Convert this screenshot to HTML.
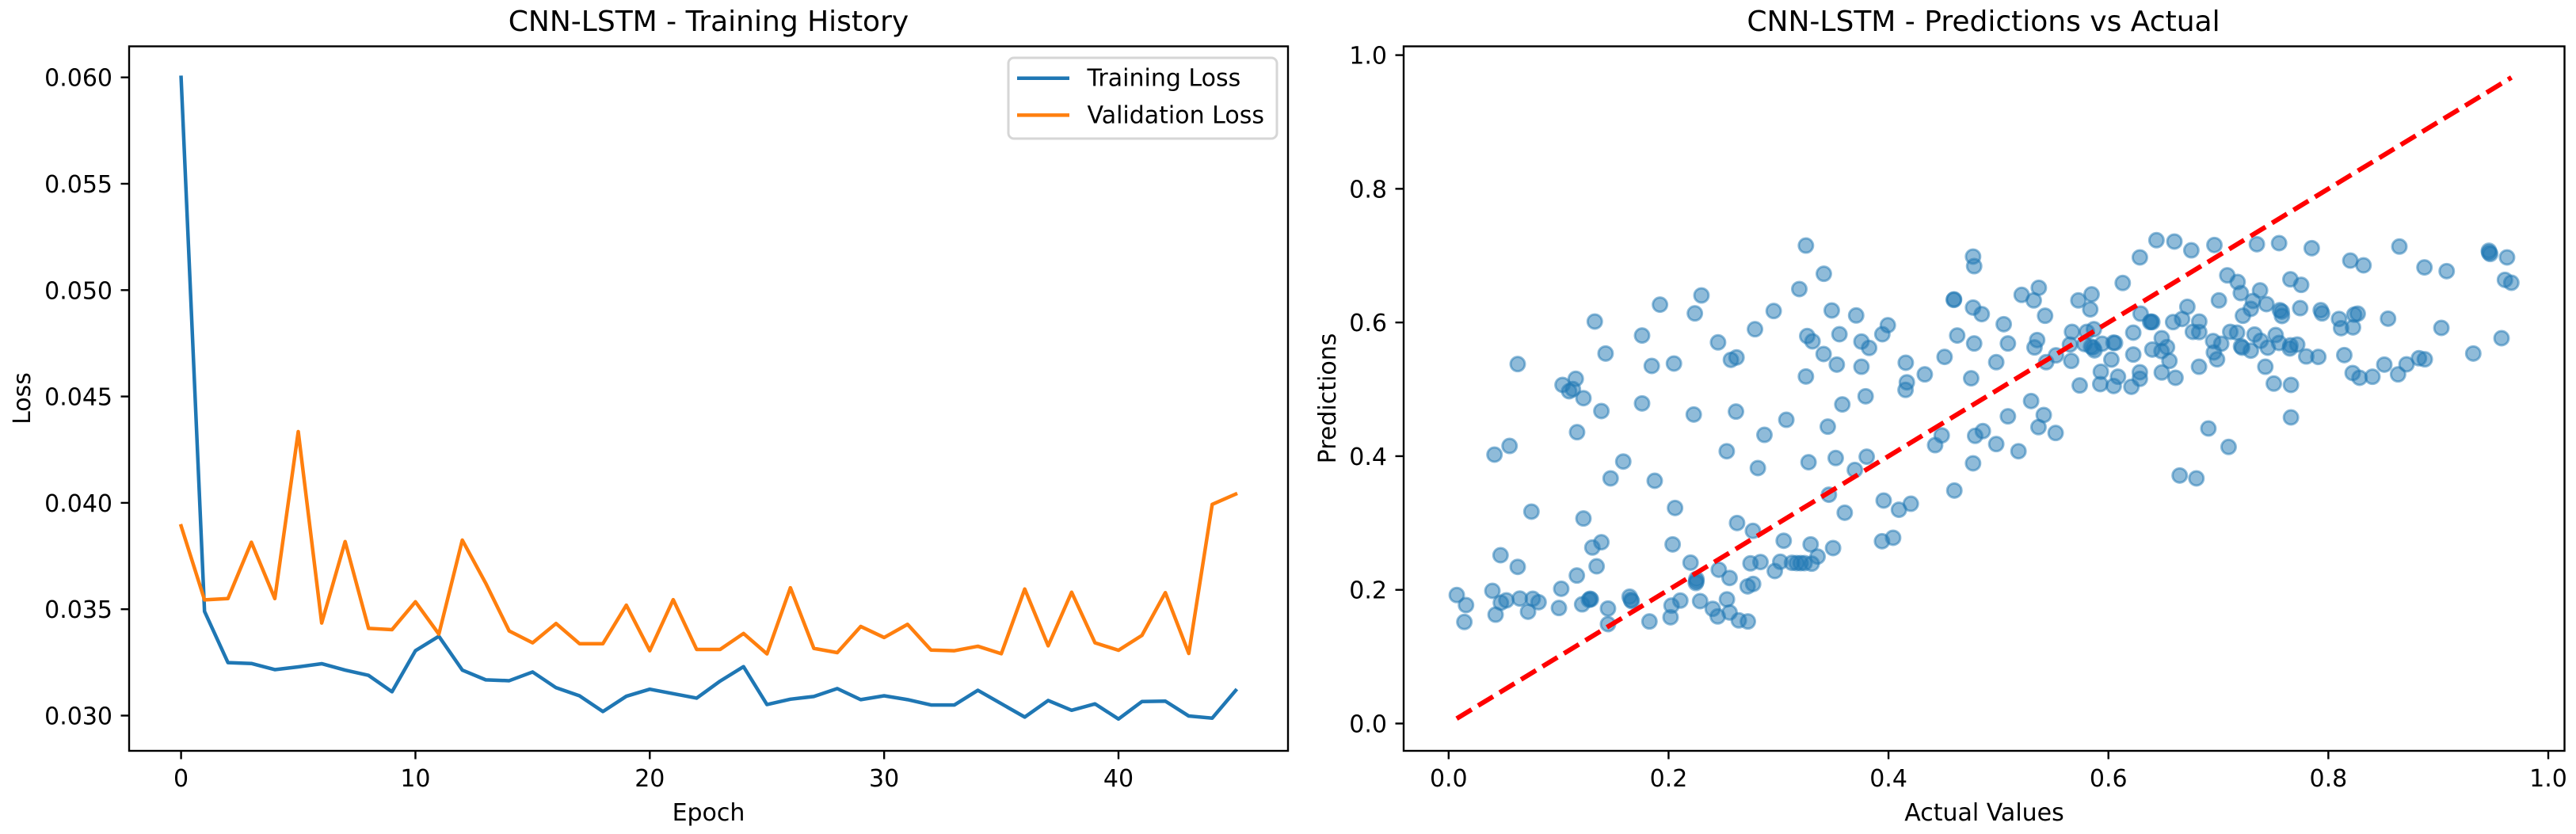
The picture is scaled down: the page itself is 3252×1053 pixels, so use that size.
<!DOCTYPE html>
<html lang="en">
<head>
<meta charset="utf-8">
<title>CNN-LSTM Training History and Predictions vs Actual</title>
<style>
  html, body { margin: 0; padding: 0; background: #ffffff; }
  svg { display: block; }
  text { font-family: "DejaVu Sans", "Liberation Sans", sans-serif; fill: #000000; }
</style>
</head>
<body>
<svg id="figure" xmlns="http://www.w3.org/2000/svg" width="3252" height="1053" viewBox="0 0 3252 1053">
  <rect x="0" y="0" width="3252" height="1053" fill="#ffffff"/>

  <g id="history-panel">
    <g id="history-marks"></g>
    <rect x="163" y="58.5" width="1463" height="889.5" fill="none" stroke="#000" stroke-width="2.4"/>
    <g id="history-ticks"></g>
    <text x="894.5" y="39" font-size="36" text-anchor="middle">CNN-LSTM - Training History</text>
    <text x="894.5" y="1036" font-size="30" text-anchor="middle">Epoch</text>
    <text transform="translate(38 503) rotate(-90)" font-size="30" text-anchor="middle">Loss</text>
    <g>
      <rect x="1273" y="73" width="339" height="102" rx="7" ry="7" fill="#ffffff" fill-opacity="0.8" stroke="#d6d6d6" stroke-width="3"/>
      <line x1="1284" y1="98.7" x2="1350" y2="98.7" stroke="#1f77b4" stroke-width="4.5"/>
      <text x="1372.5" y="108.5" font-size="30">Training Loss</text>
      <line x1="1284" y1="145.4" x2="1350" y2="145.4" stroke="#ff7f0e" stroke-width="4.5"/>
      <text x="1372.5" y="155.5" font-size="30">Validation Loss</text>
    </g>
  </g>

  <g id="scatter-panel">
    <g id="scatter-marks"></g>
    <rect x="1772" y="58.5" width="1465.5" height="889.5" fill="none" stroke="#000" stroke-width="2.4"/>
    <g id="scatter-ticks"></g>
    <text x="2504" y="39" font-size="36" text-anchor="middle">CNN-LSTM - Predictions vs Actual</text>
    <text x="2505" y="1036" font-size="30" text-anchor="middle">Actual Values</text>
    <text transform="translate(1686 503) rotate(-90)" font-size="30" text-anchor="middle">Predictions</text>
  </g>
</svg>

<script>
const epochs = [0,1,2,3,4,5,6,7,8,9,10,11,12,13,14,15,16,17,18,19,20,21,22,23,24,25,26,27,28,29,30,31,32,33,34,35,36,37,38,39,40,41,42,43,44,45];
const trainingLoss = [0.0600,0.0349,0.03249,0.03245,0.03216,0.03229,0.03244,0.03214,0.03189,0.03112,0.03305,0.03373,0.03214,0.03168,0.03164,0.03205,0.03131,0.03093,0.03019,0.03091,0.03124,0.03103,0.03082,0.03162,0.0323,0.03052,0.03077,0.0309,0.03127,0.03075,0.03093,0.03075,0.0305,0.0305,0.03119,0.03056,0.02993,0.03071,0.03025,0.03055,0.02984,0.03066,0.03068,0.02998,0.02988,0.03118];
const validationLoss = [0.03892,0.03544,0.0355,0.03815,0.0355,0.04335,0.03435,0.03818,0.0341,0.03404,0.03535,0.03383,0.03825,0.03622,0.03398,0.03342,0.03433,0.03338,0.03338,0.03519,0.03305,0.03545,0.03311,0.03311,0.03386,0.0329,0.03601,0.03316,0.03296,0.03419,0.03367,0.03429,0.03308,0.03305,0.03326,0.03291,0.03595,0.03328,0.0358,0.03342,0.03307,0.03377,0.03578,0.03292,0.03993,0.04041];
const epochTicks = [0,10,20,30,40];
const epochTickLabels = ["0","10","20","30","40"];
const lossTicks = [0.030,0.035,0.040,0.045,0.050,0.055,0.060];
const lossTickLabels = ["0.030","0.035","0.040","0.045","0.050","0.055","0.060"];

const actualValues = [
.3249,.3412,.3189,.2299,.1922,.2239,.2956,.3484,.1329,.2786,.1759,.2450,.3261,.3309,.3554,.1427,.3410,.3530,.0628,.1847,.2049,.2567,.2618,.3249,.1156,.1036,.1096,.1130,.1226,.1389,.1759,.2229,.2613,.3580,.3071,.3448,.2872,.1168,.0554,.0417,.2529,.1588,.2812,.3273,.3520,.1473,.1874,.3458,.3602,.0753,.2059,.1226,.2623,.2767,.1389,.1307,.2037,.3047,.3292,.3496,.0472,.0628,.1346,.2200,.3355,.2745,.2836,.3016,.2966,.3122,.3165,.3201,.3237,.3302,.2457,.2555,.1166,.2253,.2253,.2248,.1024,.2769,.2719,.0398,.0074,.0158,.0143,.0427,.0475,.0525,.0647,.0765,.0818,.0722,.1003,.1214,.1276,.1286,.1293,.1449,.1646,.1658,.1665,.1449,.1826,.2027,.2107,.2018,.2287,.2402,.2447,.2531,.2555,.2639,.2721,
.3706,.4769,.4779,.6286,.6437,.6600,.6754,.6130,.5367,.5211,.5321,.5847,.5727,.5835,.4594,.4596,.4769,.4848,.5424,.3994,.3944,.5048,.3754,.3824,.4625,.4779,.5086,.5352,.5328,.4510,.3754,.4157,.4980,.5523,.5434,.4330,.4167,.4155,.4752,.3792,.5669,.5650,.5662,.5804,.5868,.5782,.5842,.5861,.5873,.5943,.6046,.6060,.6027,.5931,.5926,.6087,.6048,.5739,.6226,.6226,.6293,.6380,.6399,.6389,.6588,.6670,.6718,.6485,.6399,.6533,.6483,.6555,.6485,.6610,.6286,.6286,.6209,.6824,.6768,.6826,.6826,.5297,.5412,.5086,.5364,.5520,.4858,.4788,.4484,.4424,.4980,.5182,.3802,.4769,.3694,.4599,.3956,.4203,.4095,.4042,.3941,.6648,.6800,
.6964,.7350,.7552,.7849,.8646,.8200,.8320,.8874,.9076,.9460,.9472,.9462,.9625,.9606,.9664,.7081,.7175,.7204,.7005,.7379,.7655,.7753,.7314,.7295,.7223,.7437,.7559,.7576,.7578,.7744,.7931,.7943,.8097,.8116,.8224,.8236,.8267,.8543,.9028,.9575,.9318,.7108,.7170,.6952,.7026,.6959,.6988,.7206,.7216,.7295,.7329,.7384,.7449,.7521,.7552,.7650,.7655,.7717,.7799,.7909,.8145,.7427,.7504,.7660,.8221,.8284,.8401,.8509,.8634,.8711,.8824,.8877,.7660,.7093,.6909
];
const predictedValues = [
.7151,.6729,.6500,.6405,.6267,.6136,.6172,.6180,.6014,.5899,.5805,.5702,.5797,.5718,.5824,.5536,.5528,.5370,.5378,.5350,.5386,.5441,.5477,.5192,.5157,.5066,.4971,.5003,.4868,.4675,.4789,.4623,.4667,.4774,.4544,.4442,.4319,.4359,.4153,.4023,.4074,.3920,.3822,.3909,.3972,.3668,.3632,.3423,.3154,.3170,.3225,.3067,.3000,.2882,.2712,.2633,.2680,.2735,.2680,.2625,.2518,.2344,.2352,.2407,.2498,.2396,.2416,.2420,.2281,.2404,.2400,.2400,.2400,.2392,.2301,.2178,.2214,.2163,.2127,.2103,.2016,.2088,.2052,.1985,.1922,.1772,.1519,.1629,.1807,.1843,.1870,.1866,.1815,.1673,.1728,.1783,.1850,.1866,.1858,.1720,.1898,.1850,.1831,.1487,.1527,.1764,.1839,.1590,.1831,.1716,.1602,.1858,.1661,.1543,.1527,
.6105,.6986,.6843,.6974,.7231,.7211,.7080,.6591,.6519,.6413,.6330,.6421,.6330,.6196,.6338,.6346,.6223,.6125,.6101,.5959,.5824,.5974,.5714,.5619,.5805,.5686,.5686,.5737,.5627,.5485,.5338,.5398,.5406,.5508,.5406,.5224,.5105,.4991,.5165,.4896,.5860,.5670,.5425,.5860,.5899,.5678,.5639,.5623,.5583,.5682,.5698,.5694,.5445,.5263,.5078,.5188,.5050,.5058,.5848,.5520,.6132,.6006,.6006,.6014,.6006,.6053,.6235,.5765,.5595,.5631,.5571,.5425,.5252,.5173,.5256,.5157,.5038,.5338,.5860,.6014,.5856,.4825,.4616,.4596,.4434,.4347,.4375,.4304,.4311,.4165,.4181,.4074,.3992,.3893,.3794,.3486,.3336,.3288,.3198,.2779,.2727,.3711,.3668,
.7159,.7171,.7187,.7112,.7136,.6926,.6855,.6824,.6768,.7073,.7025,.7045,.6974,.6638,.6595,.6705,.6606,.6440,.6330,.6480,.6646,.6563,.6322,.6204,.6101,.6275,.6184,.6164,.6097,.6215,.6184,.6136,.6053,.5915,.5927,.6117,.6132,.6057,.5919,.5765,.5536,.5860,.5848,.5722,.5682,.5552,.5449,.5643,.5623,.5579,.5820,.5726,.5623,.5812,.5694,.5611,.5658,.5670,.5492,.5485,.5512,.5338,.5086,.5066,.5244,.5173,.5188,.5370,.5224,.5374,.5465,.5449,.4580,.4138,.4414
];
const referenceLine = [0.0073, 0.9665];
const actualTicks = [0,0.2,0.4,0.6,0.8,1.0];
const actualTickLabels = ["0.0","0.2","0.4","0.6","0.8","1.0"];
const predictedTicks = [0,0.2,0.4,0.6,0.8,1.0];
const predictedTickLabels = ["0.0","0.2","0.4","0.6","0.8","1.0"];

const SVG_NS = "http://www.w3.org/2000/svg";
function linearScale(d0, d1, r0, r1) {
  return function (v) { return r0 + (v - d0) * (r1 - r0) / (d1 - d0); };
}
const epochX = linearScale(0, 40, 228.6, 1412);
const lossY = linearScale(0.03, 0.06, 903.5, 97.7);
const actualX = linearScale(0, 1, 1828.8, 3217);
const predictedY = linearScale(0, 1, 913.5, 69.6);
const axisBottom = 948;
const historyAxisLeft = 163;
const scatterAxisLeft = 1772;

function make(tag, parent, props) {
  const node = document.createElementNS(SVG_NS, tag);
  Object.keys(props).forEach(function (k) { node.setAttribute(k, props[k]); });
  parent.appendChild(node);
  return node;
}

function drawXTicks(parent, ticks, labels, scale, prefix) {
  ticks.forEach(function (t, i) {
    const x = scale(t);
    const mark = make("line", parent, { x1: x, x2: x, y1: axisBottom, y2: axisBottom + 10.5, stroke: "#000", "stroke-width": 2.4 });
    
    
    const label = make("text", parent, { x: x, y: 993, "font-size": 30, "text-anchor": "middle" });
    label.textContent = labels[i];
    
    
  });
}

function drawYTicks(parent, ticks, labels, scale, axisLeft, prefix) {
  ticks.forEach(function (t, i) {
    const y = scale(t);
    const mark = make("line", parent, { x1: axisLeft - 10.5, x2: axisLeft, y1: y, y2: y, stroke: "#000", "stroke-width": 2.4 });
    
    
    const label = make("text", parent, { x: axisLeft - 21, y: y + 11, "font-size": 30, "text-anchor": "end" });
    label.textContent = labels[i];
    
    
  });
}

function linePoints(xs, ys, sx, sy) {
  return xs.map(function (x, i) { return sx(x).toFixed(2) + "," + sy(ys[i]).toFixed(2); }).join(" ");
}

const historyMarks = document.getElementById("history-marks");
const lineProps = { fill: "none", "stroke-width": 4.5, "stroke-linejoin": "round", "stroke-linecap": "square" };

const trainingLine = make("polyline", historyMarks, Object.assign({ points: linePoints(epochs, trainingLoss, epochX, lossY), stroke: "#1f77b4" }, lineProps));



const validationLine = make("polyline", historyMarks, Object.assign({ points: linePoints(epochs, validationLoss, epochX, lossY), stroke: "#ff7f0e" }, lineProps));



const historyTicks = document.getElementById("history-ticks");
drawXTicks(historyTicks, epochTicks, epochTickLabels, epochX, 'epoch');
drawYTicks(historyTicks, lossTicks, lossTickLabels, lossY, historyAxisLeft, 'loss');

const scatterMarks = document.getElementById("scatter-marks");
actualValues.forEach(function (a, i) {
  const dot = make("circle", scatterMarks, {
    cx: actualX(a).toFixed(2), cy: predictedY(predictedValues[i]).toFixed(2), r: 9,
    fill: "#1f77b4", "fill-opacity": 0.5, stroke: "#1f77b4", "stroke-opacity": 0.5, "stroke-width": 3
  });
  
  
});

const perfectLine = make("line", scatterMarks, {
  x1: actualX(referenceLine[0]), y1: predictedY(referenceLine[0]),
  x2: actualX(referenceLine[1]), y2: predictedY(referenceLine[1]),
  stroke: "#ff0000", "stroke-width": 6, "stroke-dasharray": "22.1 9.6"
});



const scatterTicks = document.getElementById("scatter-ticks");
drawXTicks(scatterTicks, actualTicks, actualTickLabels, actualX, 'actual');
drawYTicks(scatterTicks, predictedTicks, predictedTickLabels, predictedY, scatterAxisLeft, 'predicted');
</script>
</body>
</html>
